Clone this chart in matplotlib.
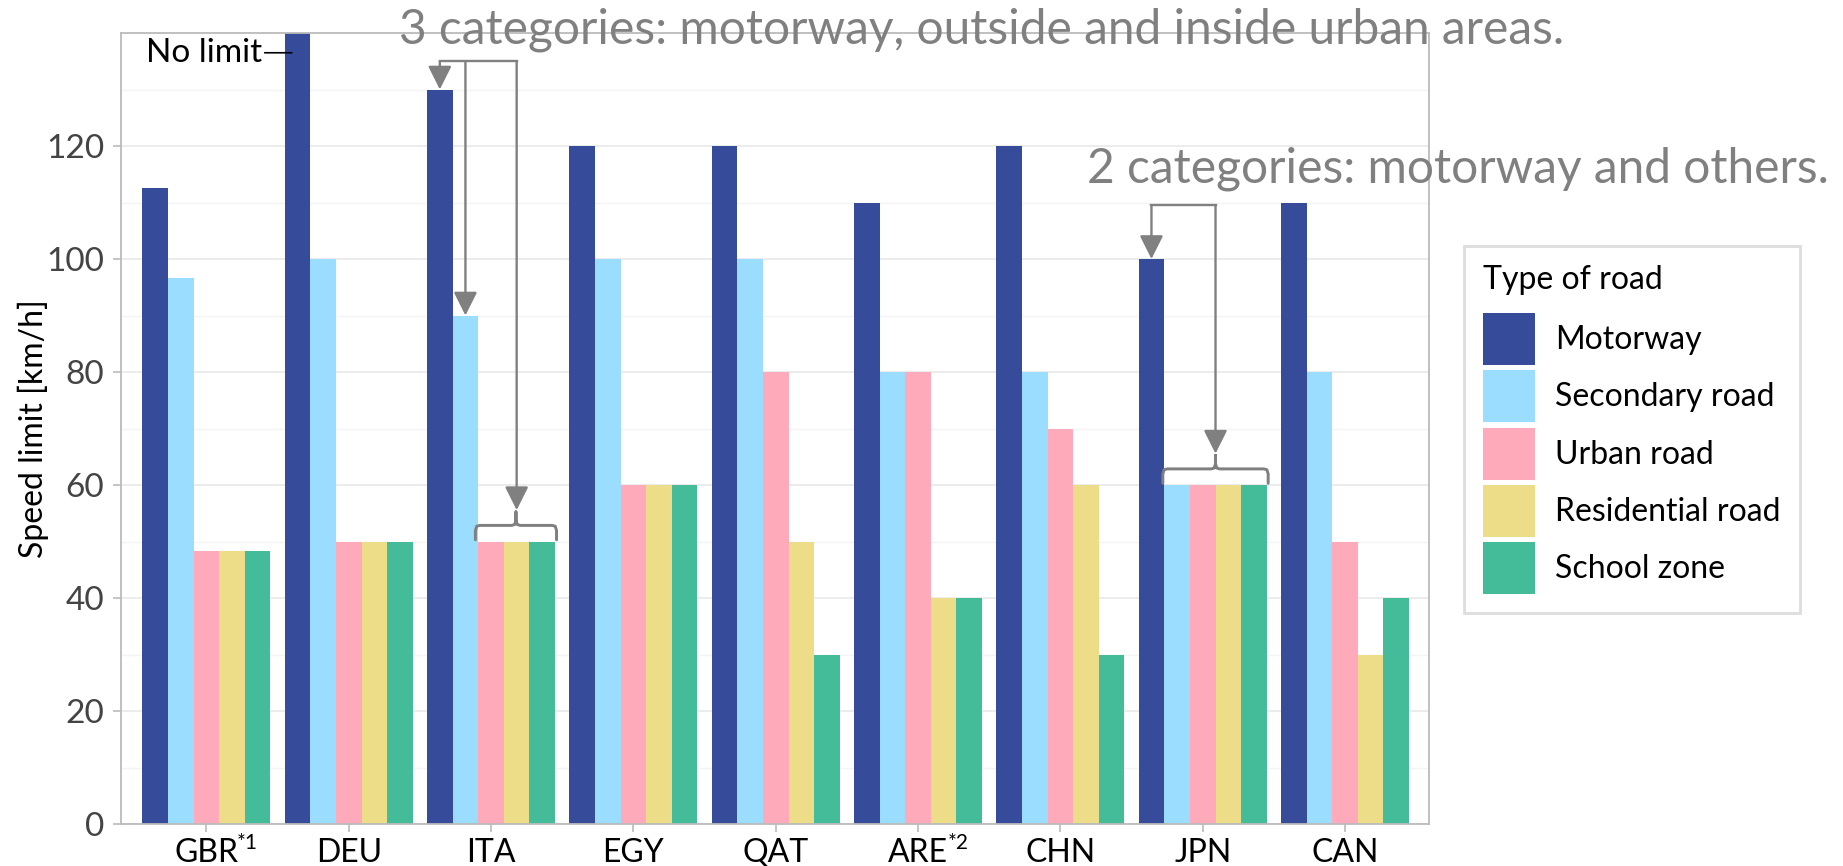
import matplotlib
matplotlib.use("Agg")
import matplotlib.pyplot as plt
import numpy as np
from matplotlib.patches import Patch

countries = ["GBR", "DEU", "ITA", "EGY", "QAT", "ARE", "CHN", "JPN", "CAN"]
superscripts = {"GBR": "*1", "ARE": "*2"}
road_types = ["Motorway", "Secondary road", "Urban road", "Residential road", "School zone"]
motorway = [112.65, 140, 130, 120, 120, 110, 120, 100, 110]
secondary = [96.56, 100, 90, 100, 100, 80, 80, 60, 80]
urban = [48.28, 50, 50, 60, 80, 80, 70, 60, 50]
residential = [48.28, 50, 50, 60, 50, 40, 60, 60, 30]
school = [48.28, 50, 50, 60, 30, 40, 30, 60, 40]
colors = ["#364B9A", "#9BDDFF", "#FFAABB", "#EEDD88", "#44BB99"]

series = [motorway, secondary, urban, residential, school]

FONT = "Lato"
plt.rcParams['font.family'] = [FONT, 'DejaVu Sans']

fig = plt.figure(figsize=(18.43, 8.66), dpi=100)
ax = fig.add_axes([121/1843, 1-824/866, (1429-121)/1843, (824-33)/866])

x = np.arange(len(countries))
bw = 0.18
for k, (vals, col, name) in enumerate(zip(series, colors, road_types)):
    ax.bar(x + (k - 2) * bw, vals, width=bw, color=col, label=name, zorder=2)

ax.set_xlim(-0.6, 8.59)
ax.set_ylim(0, 140)
ax.set_yticks(np.arange(0, 121, 20))
ax.set_yticks(np.arange(10, 140, 20), minor=True)
ax.grid(axis='y', which='major', color='#EAEAEA', lw=1.3, zorder=0)
ax.grid(axis='y', which='minor', color='#F4F4F4', lw=1.0, zorder=0)
ax.set_axisbelow(True)
for s in ax.spines.values():
    s.set_color('#BBBBBB')
    s.set_linewidth(1.3)
ax.tick_params(axis='both', which='major', color='#BBBBBB', length=6, width=1.2)
ax.tick_params(axis='y', which='major', labelsize=24, labelcolor='#444444', pad=6)
ax.tick_params(axis='x', which='major', labelsize=23, labelcolor='#000000', pad=4)
ax.tick_params(axis='y', which='minor', length=0)
ax.set_xticks(x)
ax.set_xticklabels(countries)
for i, c in enumerate(countries):
    if c in superscripts:
        ax.annotate(superscripts[c], xy=(i, 0), xycoords=('data', 'axes fraction'),
                    xytext=(21.5, -6.5), textcoords='offset points', fontsize=15,
                    color='#000000', ha='left', va='top', annotation_clip=False)
ax.set_ylabel("Speed limit [km/h]", fontsize=23, color='#000000')
ax.yaxis.set_label_coords((49 - 121) / 1308, 0.5)

# "No limit" annotation for DEU
ax.annotate("No limit", xy=(0.60, 136.5), xytext=(0.39, 136.5),
            fontsize=24, ha='right', va='center', color='black',
            arrowprops=dict(arrowstyle='-', color='black', lw=1.2, shrinkA=0, shrinkB=0))

gray = '#808080'
alw = 1.7

def arrow(xx, y0, y1):
    ax.annotate('', xy=(xx, y1), xytext=(xx, y0),
                arrowprops=dict(arrowstyle='-|>,head_length=0.6,head_width=0.3', color=gray, lw=alw,
                                shrinkA=0, shrinkB=0, mutation_scale=24), annotation_clip=False)

def brace(x0, x1, ybase, h=3.0):
    xc = (x0 + x1) / 2
    d = 0.03
    yh = ybase + h * 0.95
    xs = [x0, x0, x0 + d * 0.3, x0 + d, xc - d, xc - d * 0.3, xc, xc,
          xc, xc + d * 0.3, xc + d, x1 - d, x1 - d * 0.3, x1, x1]
    ys = [ybase + 0.3, yh - 0.9, yh - 0.15, yh, yh, yh + 0.15, yh + 0.9, yh + 2.4,
          yh + 0.9, yh + 0.15, yh, yh, yh - 0.15, yh - 0.9, ybase + 0.3]
    ax.plot(xs, ys, color=gray, lw=alw * 1.25, solid_joinstyle='round', solid_capstyle='round',
            clip_on=False, zorder=5)
    return yh + 2.4

# ITA annotation
i = countries.index("ITA")
top_i = 135
xm = i - 2 * bw
xs2 = i - bw
xb = i + bw
ax.plot([xm, xb], [top_i, top_i], color=gray, lw=alw, clip_on=False, zorder=5)
arrow(xm, top_i, motorway[i])
arrow(xs2, top_i, secondary[i])
ntop = brace(i - 0.5 * bw - 0.02, i + 2.5 * bw + 0.01, urban[i])
arrow(xb, top_i, ntop + 0.3)

# JPN annotation
j = countries.index("JPN")
top_j = 109.5
xmj = j - 2 * bw
xbj = j + 0.5 * bw
ax.plot([xmj, xbj], [top_j, top_j], color=gray, lw=alw, clip_on=False, zorder=5)
arrow(xmj, top_j, motorway[j])
ntop = brace(j - 1.5 * bw - 0.01, j + 2.5 * bw + 0.01, secondary[j])
arrow(xbj, top_j, ntop + 0.3)

ax.text((400 - 207) / 142.3, 138.1, "3 categories: motorway, outside and inside urban areas.",
        fontsize=34.5, color=gray, ha='left', va='baseline', clip_on=False, zorder=6)
ax.text((1087 - 207) / 142.3, 113.5, "2 categories: motorway and others.",
        fontsize=34.5, color=gray, ha='left', va='baseline', clip_on=False, zorder=6)

handles = [Patch(facecolor=c, edgecolor='none', label=n) for c, n in zip(colors, road_types)]
leg = fig.legend(handles=handles, title="Type of road", loc='upper left',
                 bbox_to_anchor=(1464/1843, 1 - 246/866), borderaxespad=0,
                 fontsize=23, title_fontsize=23, alignment='left', frameon=True,
                 fancybox=False, edgecolor='#DDDDDD', handlelength=1.63, handleheight=2.13,
                 labelspacing=0.16, handletextpad=0.63, borderpad=0.6, framealpha=1)
leg.get_frame().set_linewidth(2.0)
leg._legend_box.sep = 13

fig.savefig("out.png", dpi=100)
